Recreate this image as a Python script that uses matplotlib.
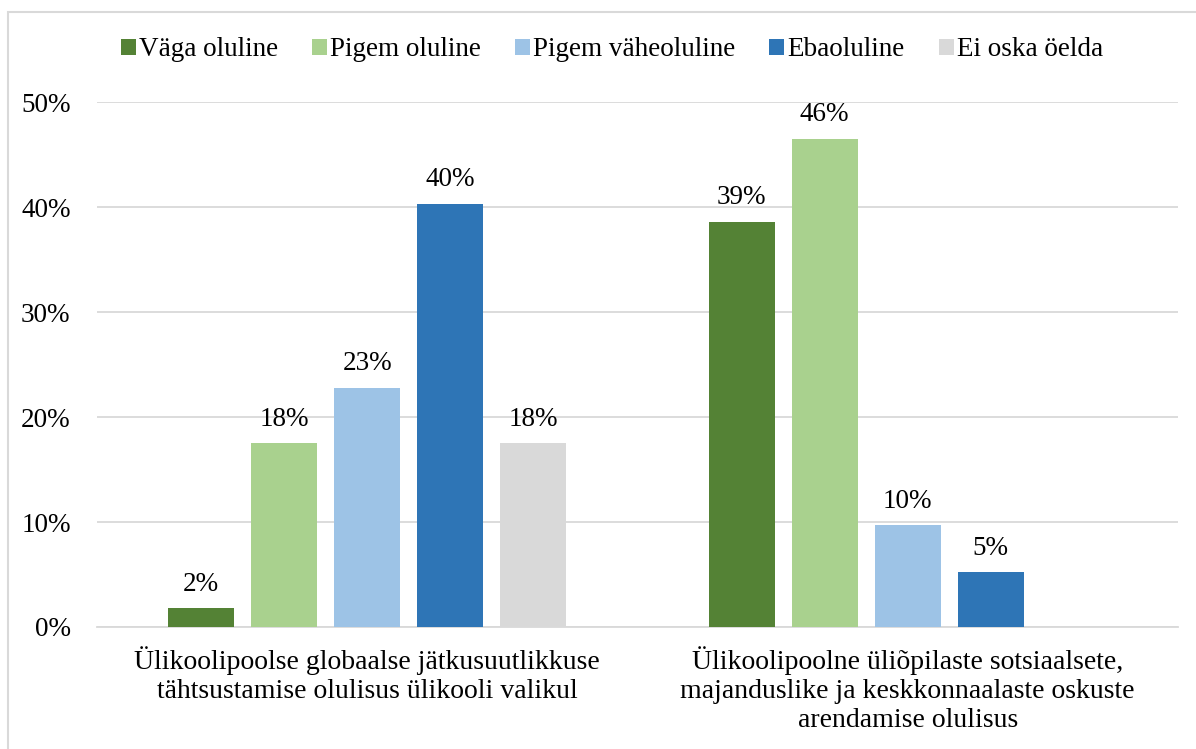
import numpy as np
import matplotlib
matplotlib.use('Agg')
import matplotlib.pyplot as plt
from matplotlib.patches import Rectangle

plt.rcParams['font.family'] = ['Liberation Serif', 'DejaVu Serif']

# Data
categories = [
    'Ülikoolipoolse globaalse jätkusuutlikkuse\ntähtsustamise olulisus ülikooli valikul',
    'Ülikoolipoolne üliõpilaste sotsiaalsete,\nmajanduslike ja keskkonnaalaste oskuste\narendamise olulisus',
]
series_names = ['Väga oluline', 'Pigem oluline', 'Pigem väheoluline', 'Ebaoluline', 'Ei oska öelda']
vaga = [1.8, 38.6]
pigem = [17.5, 46.5]
pigem_vahe = [22.8, 9.7]
ebaoluline = [40.3, 5.2]
ei_oska = [17.5, None]
series = [vaga, pigem, pigem_vahe, ebaoluline, ei_oska]
colors = ['#548235', '#A9D18E', '#9DC3E6', '#2E75B6', '#D9D9D9']

FS = 19.5

fig = plt.figure(figsize=(11.96, 7.49), dpi=100)
ax = fig.add_axes([97 / 1196, 1 - 627 / 749, 1081 / 1196, 525 / 749])

# figure border
fig.patches.append(Rectangle((8 / 1196, -0.05), 1.2, 1 - 12 / 749 + 0.05,
                             transform=fig.transFigure, fill=False,
                             edgecolor='#D9D9D9', linewidth=1.5))

x = np.arange(len(categories))
width = 0.122
step = 0.1536
for i, (name, vals, col) in enumerate(zip(series_names, series, colors)):
    pos = x + (i - 2) * step
    h = [v if v is not None else 0 for v in vals]
    bars = ax.bar(pos, h, width, color=col, label=name, zorder=3)
    for b, v in zip(bars, vals):
        if v is None:
            continue
        ax.text(b.get_x() + b.get_width() / 2, v + 1.1, f'{round(v):.0f}%',
                ha='center', va='bottom', fontsize=FS)

ax.set_xlim(-0.5, 1.5)
ax.set_ylim(0, 50)
ax.set_yticks(np.arange(0, 51, 10))
ax.set_yticklabels([f'{t}%' for t in range(0, 51, 10)], fontsize=FS)
ax.set_xticks(x)
ax.set_xticklabels(categories, fontsize=20, linespacing=1.2)
ax.tick_params(axis='both', length=0)
ax.tick_params(axis='y', pad=19)
ax.tick_params(axis='x', pad=14)
ax.grid(axis='y', color='#D9D9D9', linewidth=1.3, zorder=0)
for s in ['top', 'right', 'left']:
    ax.spines[s].set_visible(False)
ax.spines['bottom'].set_color('#D9D9D9')
ax.spines['bottom'].set_linewidth(1.3)

ax.legend(loc='center', bbox_to_anchor=(612 / 1196, 1 - 50 / 749),
          bbox_transform=fig.transFigure, ncol=5, frameon=False,
          fontsize=FS, handlelength=0.55, handleheight=0.55,
          handletextpad=0.12, columnspacing=1.25)

fig.savefig('out.png', dpi=100)
